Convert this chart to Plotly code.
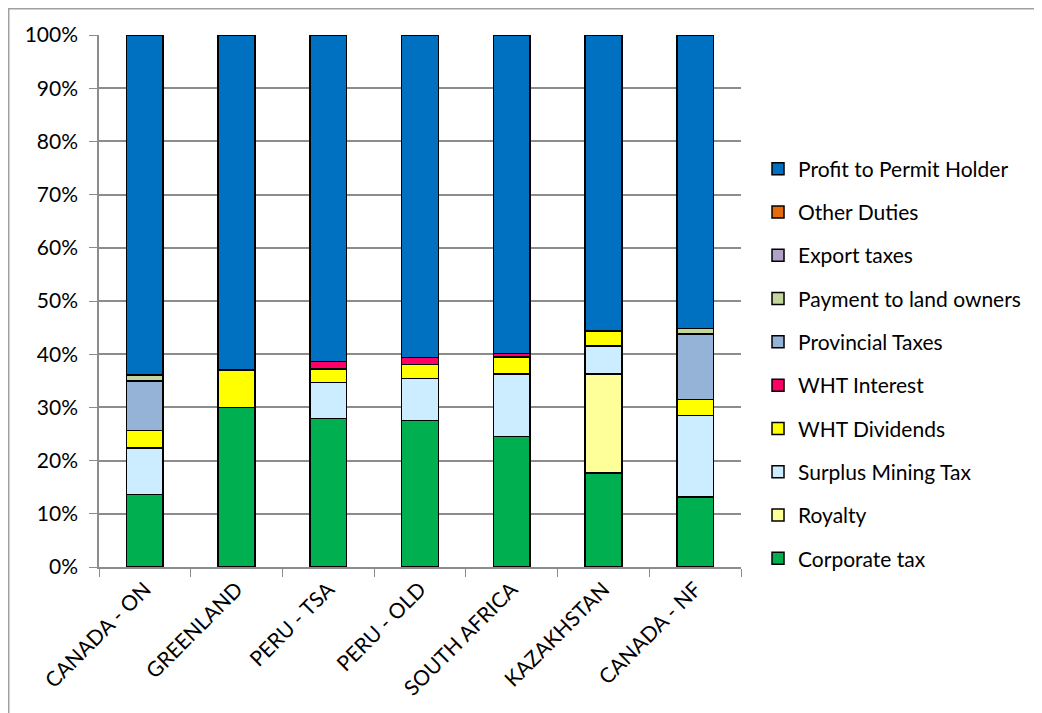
import plotly.graph_objects as go

countries = ["CANADA - ON", "GREENLAND", "PERU - TSA", "PERU - OLD",
             "SOUTH AFRICA", "KAZAKHSTAN", "CANADA - NF"]

# shares of total value, in percent (bottom to top of each bar)
corporate_tax = [13.6, 30.0, 27.9, 27.5, 24.5, 17.7, 13.2]
royalty = [0, 0, 0, 0, 0, 18.6, 0]
surplus_mining_tax = [8.8, 0, 6.8, 7.9, 11.8, 5.2, 15.3]
wht_dividends = [3.3, 7.0, 2.5, 2.7, 3.2, 2.9, 3.0]
wht_interest = [0, 0, 1.4, 1.3, 0.6, 0, 0]
provincial_taxes = [9.3, 0, 0, 0, 0, 0, 12.3]
payment_land_owners = [1.1, 0, 0, 0, 0, 0, 1.0]
export_taxes = [0, 0, 0, 0, 0, 0, 0]
other_duties = [0, 0, 0, 0, 0, 0, 0]
profit_permit_holder = [63.9, 63.0, 61.4, 60.6, 59.9, 55.6, 55.2]

series = [
    ("Corporate tax", corporate_tax, "#00B050"),
    ("Royalty", royalty, "#FFFF99"),
    ("Surplus Mining Tax", surplus_mining_tax, "#CCECFF"),
    ("WHT Dividends", wht_dividends, "#FFFF00"),
    ("WHT Interest", wht_interest, "#FF0066"),
    ("Provincial Taxes", provincial_taxes, "#95B3D7"),
    ("Payment to land owners", payment_land_owners, "#C3D69B"),
    ("Export taxes", export_taxes, "#B3A2C7"),
    ("Other Duties", other_duties, "#E46C0A"),
    ("Profit to Permit Holder", profit_permit_holder, "#0070C0"),
]

fig = go.Figure()
for i, (name, vals, color) in enumerate(series):
    fig.add_trace(go.Bar(x=countries, y=vals, name=name, legendgroup=name,
                         legendrank=1000 - i,
                         marker=dict(color=color, line=dict(color="black", width=1.5))))

grid = "#8C8C8C"
# page body has an 8px margin, so the figure is sized/offset accordingly
fig.update_layout(
    barmode="stack", bargap=0.6,
    width=1034, height=705,
    margin=dict(l=91, r=301, t=27, b=146),
    paper_bgcolor="white", plot_bgcolor="white",
    font=dict(family="Lato, Calibri, sans-serif", size=21, color="black"),
    legend=dict(traceorder="grouped", x=1.0265, xanchor="left",
                y=0.3816, yanchor="middle", tracegroupgap=13,
                font=dict(size=21)),
    xaxis=dict(tickangle=-45, showline=True, linecolor=grid, linewidth=1.5,
               ticks="outside", ticklen=8, tickcolor=grid, tickson="boundaries",
               showgrid=False),
    yaxis=dict(range=[0, 100], dtick=10, ticksuffix="%", showline=True,
               linecolor=grid, linewidth=1.5, ticks="outside", ticklen=8,
               tickcolor=grid, gridcolor=grid, gridwidth=1.5, zeroline=False,
               ticklabelstandoff=7),
    shapes=[dict(type="rect", xref="paper", yref="paper",
                 x0=-0.1406, x1=1.6, y0=-0.6, y1=1.0493,
                 line=dict(color="#A0A0A0", width=1.5))],
)

fig.write_html("out.html")
